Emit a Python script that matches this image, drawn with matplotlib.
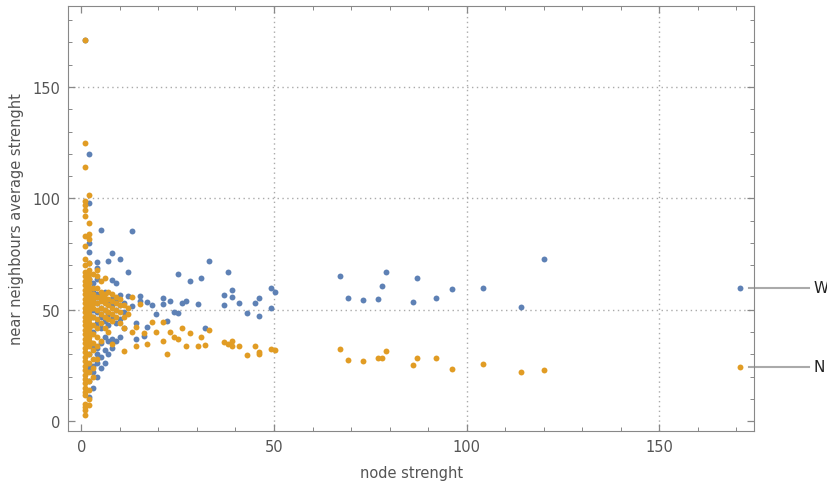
import matplotlib.pyplot as plt
from matplotlib.ticker import MultipleLocator

# W series (blue)
w_x = [1,
       2, 2, 2, 2, 2, 2, 2, 2, 2, 2, 2, 2, 2, 2, 2, 2,
       3, 3, 3, 3, 3, 3, 3, 3, 3, 3,
       4, 4, 4, 4, 4, 4, 4, 4, 4, 4, 4,
       5, 5, 5, 5, 5, 5, 5, 5,
       6, 6, 6, 6, 6, 6, 6,
       7, 7, 7, 7, 7, 7,
       8, 8, 8, 8, 8, 8, 8,
       9, 9, 9, 9, 9,
       10, 10, 10, 10, 10,
       11, 11, 11,
       12.2, 12.2, 13.2, 13.2, 14.1, 14.1, 15.2, 15.2, 16.3, 17.1, 17.1, 18.2,
       19.3, 21.2, 21.2, 22.1, 23.1, 24, 25.2, 25.2, 26.1, 27.2, 28.2, 30.2,
       31, 32.2, 33.2, 37.1, 37.1, 38.1, 39.2, 39.2, 41, 43.1, 45.1, 46.1,
       46.1, 49.1, 49.1, 50.2, 67.1, 69.1, 73.2, 77.1, 78.1, 79.1, 86, 87.1,
       92.1, 96.2, 104.2, 114, 120, 171]
w_y = [171,
       11, 18, 24, 30, 36, 42, 48, 52, 56, 60, 64, 71, 76, 80, 98, 120,
       15, 22, 25, 33, 40, 47, 50, 55, 58, 62,
       20, 26, 30, 33, 44, 49, 53, 57, 64, 69, 71.5,
       24, 29, 35, 42, 47, 51, 55, 86,
       26, 32, 38, 45, 50, 54, 58,
       30, 36, 43, 48, 53, 72,
       33, 37, 46, 52, 55, 63.5, 75.6,
       36, 44, 50, 54, 62,
       38, 46, 52, 56.7, 72.7,
       42, 49, 53.1,
       66.9, 56.1, 85.3, 51.7, 44.2, 37, 56.1, 54, 38.5, 53.7, 42.2, 52.2,
       48.2, 55.2, 52.5, 44.8, 53.9, 49, 48.5, 66, 53.1, 54.2, 63, 52.6,
       64.5, 41.9, 72, 56.7, 52.2, 67.2, 59, 55.7, 53, 48.7, 53, 55.2,
       47.2, 60, 51, 57.9, 65.4, 55.2, 54.6, 54.9, 60.8, 67.2, 53.7, 64.2,
       55.2, 59.4, 60, 51.5, 72.7, 60]

# N series (orange)
n_x = [1, 1, 1, 1, 1, 1, 1, 1, 1, 1, 1, 1, 1, 1, 1, 1, 1, 1, 1, 1, 1, 1,
       1, 1, 1, 1, 1, 1, 1, 1, 1, 1, 1, 1, 1, 1, 1, 1, 1, 1, 1, 1, 1, 1,
       2, 2, 2, 2, 2, 2, 2, 2, 2, 2, 2, 2, 2, 2, 2, 2, 2, 2, 2, 2, 2, 2,
       2, 2, 2, 2, 2, 2, 2, 2,
       3, 3, 3, 3, 3, 3, 3, 3, 3, 3, 3, 3, 3, 3,
       4, 4, 4, 4, 4, 4, 4, 4, 4, 4, 4,
       5, 5, 5, 5, 5, 5, 5, 5,
       6, 6, 6, 6, 6, 6, 6,
       7, 7, 7, 7, 7, 7,
       8, 8, 8, 8, 8, 8,
       9, 9, 9, 9,
       10, 10, 10, 10,
       11, 11, 11, 11,
       12, 12,
       13.2, 13.2, 14.1, 14.1, 15.2, 16.3, 17.1, 18.3, 19.3, 21.1, 21.2, 22.3,
       23.1, 24.1, 25.2, 26.1, 27.2, 28.1, 30.2, 31, 32.1, 33.1, 37.1, 38.1,
       39.2, 39.2, 41, 43.1, 45.1, 46.1, 46.1, 49.1, 50.2, 67.1, 69.1, 73.2,
       77.1, 78.1, 79.1, 86, 87.1, 92.1, 96.2, 104.2, 114, 120, 171]
n_y = [3, 5, 6.5, 8, 11.6, 13, 15, 17, 19, 21, 23, 25, 27, 29, 31, 33, 35,
       37, 39, 41, 43, 45, 47, 49, 51, 53, 55, 57, 59, 61, 63, 65, 67, 70,
       73, 78.7, 83, 92, 95, 97, 99, 114, 125, 171,
       7.5, 10, 14, 18, 22, 26, 30, 34, 36, 38, 40, 42, 44, 46, 48, 50, 52,
       54, 56, 58, 60, 62, 64, 66, 68, 71, 82, 84, 89, 101.6,
       20, 24, 28, 32, 35, 39, 43, 47, 51, 53, 55, 57, 60, 66,
       28, 34, 38, 42, 46, 50, 53, 56, 60, 65, 68,
       36, 44, 48, 51, 54, 56, 58, 63,
       42, 47, 50, 53, 55, 57, 64.2,
       40, 46, 49, 52, 55, 58,
       34.8, 45, 48, 51, 54, 57,
       47, 50, 53, 56,
       44, 49, 52, 55,
       31.5, 41.8, 47, 52,
       48, 51,
       56, 40.3, 42.2, 33.7, 52.7, 39.7, 34.8, 44.5, 40.3, 36.2, 44.5, 30.3,
       40.3, 37.8, 37, 41.9, 34, 39.7, 34, 37.8, 34.3, 41.2, 35.5, 34.8,
       36.2, 33.8, 33.7, 29.7, 33.7, 31, 30.2, 32.5, 31.8, 32.5, 27.3, 27,
       28.5, 28.5, 31.5, 25.2, 28.2, 28.2, 23.7, 25.9, 22.2, 23, 24.4]

labels = ["W", "N"]
label_y = [60, 24.4]
colors = ["#5E81B5", "#E19C24"]

fig = plt.figure(figsize=(8.28, 4.85), dpi=100)
ax = fig.add_axes([0.0825, 0.1099, 0.8281, 0.875])

ax.scatter(w_x, w_y, s=18, color=colors[0], linewidths=0, zorder=3)
ax.scatter(n_x, n_y, s=18, color=colors[1], linewidths=0, zorder=4)

ax.set_xlim(-3.4, 174.6)
ax.set_ylim(-4.2, 186.2)

for v in [50, 100, 150]:
    ax.axvline(v, color="#aaaaaa", lw=1, ls=(0, (1, 2.5)), zorder=1)
    ax.axhline(v, color="#aaaaaa", lw=1, ls=(0, (1, 2.5)), zorder=1)

ax.xaxis.set_major_locator(MultipleLocator(50))
ax.xaxis.set_minor_locator(MultipleLocator(10))
ax.yaxis.set_major_locator(MultipleLocator(50))
ax.yaxis.set_minor_locator(MultipleLocator(10))
ax.tick_params(which="both", direction="in", top=True, right=True,
               color="#888888", labelcolor="#555555", labelsize=10.5)
ax.tick_params(which="major", length=5, width=0.9, pad=6)
ax.tick_params(which="minor", length=3, width=0.7)
for sp in ax.spines.values():
    sp.set_color("#888888")

ax.set_xlabel("node strenght", color="#555555", fontsize=10.5, labelpad=8)
ax.set_ylabel("near neighbours average strenght", color="#555555",
              fontsize=10.5, labelpad=6)

tr = ax.get_yaxis_transform()
for lab, yv in zip(labels, label_y):
    ax.plot([0.9927, 1.0802], [yv, yv], color="#aaaaaa", lw=1.5,
            transform=tr, clip_on=False, zorder=2)
    ax.text(1.0875, yv, lab, transform=tr, va="center", ha="left",
            fontsize=11, color="#222222")

fig.savefig("out.png", dpi=100)
